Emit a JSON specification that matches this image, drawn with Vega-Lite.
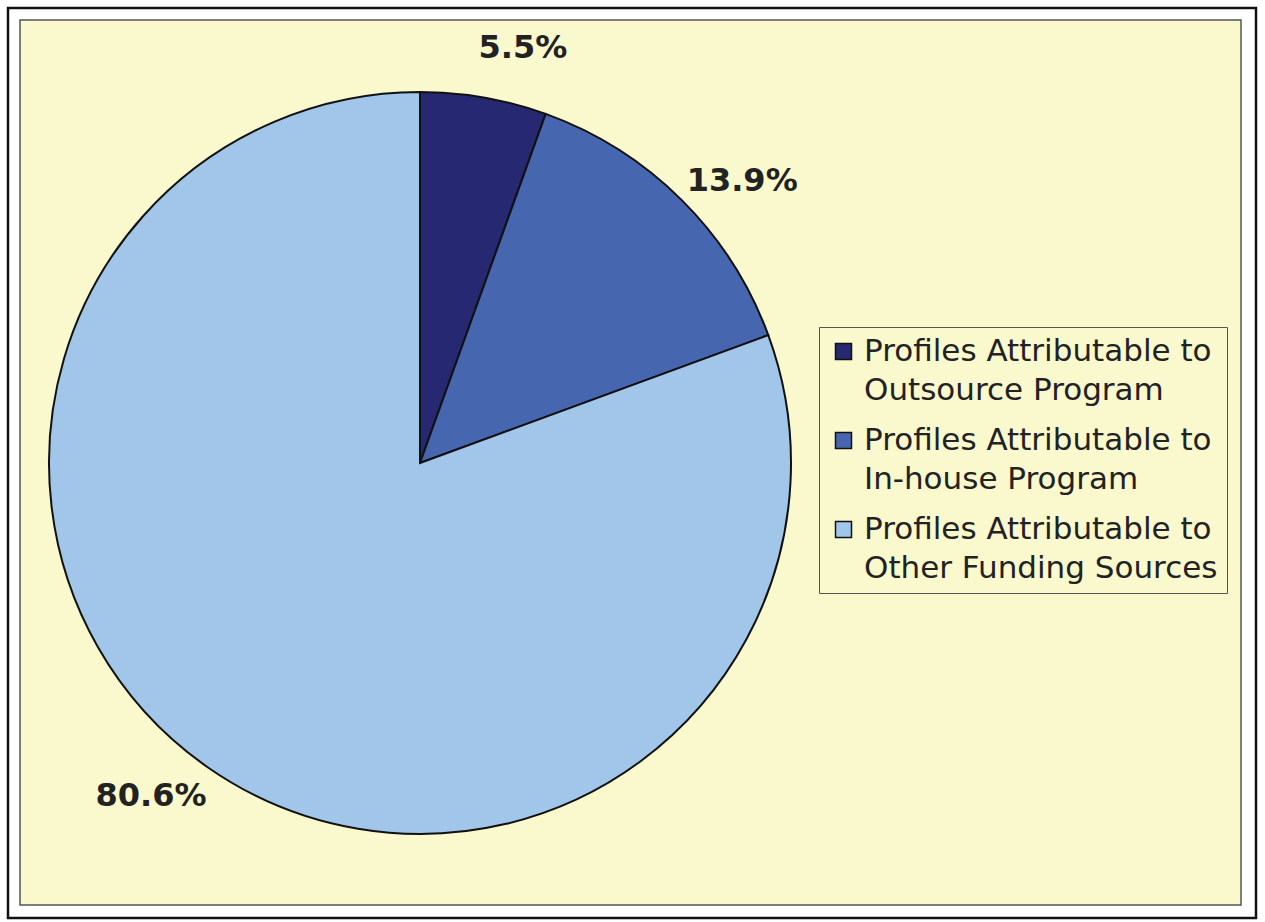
{
  "$schema": "https://vega.github.io/schema/vega-lite/v6.json",
  "autosize": {"type": "none"},
  "width": 1221,
  "height": 885,
  "padding": {"left": 20, "top": 20, "right": 24, "bottom": 17},
  "background": "#ffffff",
  "view": {"fill": "#FAF9CD", "stroke": "#555555", "strokeWidth": 1.5},
  "config": {
    "font": "DejaVu Sans"
  },
  "data": {
    "values": [
      {"category": "Profiles Attributable to Outsource Program", "value": 5.5, "order": 1, "label": "5.5%"},
      {"category": "Profiles Attributable to In-house Program", "value": 13.9, "order": 2, "label": "13.9%"},
      {"category": "Profiles Attributable to Other Funding Sources", "value": 80.6, "order": 3, "label": "80.6%"}
    ]
  },
  "encoding": {
    "theta": {"field": "value", "type": "quantitative", "stack": true},
    "order": {"field": "order", "type": "quantitative"}
  },
  "layer": [
    {
      "mark": {"type": "arc", "outerRadius": 371, "x": 400, "y": 443, "stroke": "#111111", "strokeWidth": 2},
      "encoding": {
        "color": {
          "field": "category",
          "type": "nominal",
          "scale": {
            "domain": ["Profiles Attributable to Outsource Program", "Profiles Attributable to In-house Program", "Profiles Attributable to Other Funding Sources"],
            "range": ["#262872", "#4667B0", "#A1C6EA"]
          },
          "legend": {
            "title": null,
            "orient": "none",
            "legendX": 799,
            "legendY": 307,
            "labelExpr": "[slice(datum.label, 0, 24), slice(datum.label, 25)]",
            "labelFont": "DejaVu Sans",
            "labelFontSize": 31,
            "labelColor": "#222222",
            "labelLimit": 500,
            "labelOffset": 5,
            "symbolType": "square",
            "symbolSize": 256,
            "symbolStrokeColor": "#111111",
            "symbolStrokeWidth": 1.5,
            "symbolOpacity": 1,
            "rowPadding": 18,
            "padding": 9,
            "strokeColor": "#555555",
            "fillColor": "#FAF9CD",
            "encode": {
              "labels": {"update": {"lineHeight": {"value": 39}}}
            }
          }
        }
      }
    },
    {
      "mark": {"type": "text", "radius": 428, "thetaOffset": 0.07, "x": 400, "y": 443, "font": "DejaVu Sans", "fontWeight": "bold", "fontSize": 32, "color": "#222222", "align": "center", "baseline": "middle"},
      "encoding": {
        "text": {"field": "label", "type": "nominal"}
      }
    },
    {
      "data": {"values": [{}]},
      "mark": {"type": "rect", "x": -12, "y": -12, "x2": {"expr": "width + 15"}, "y2": {"expr": "height + 13"}, "fill": null, "stroke": "#111111", "strokeWidth": 2.5},
      "encoding": {}
    }
  ]
}
